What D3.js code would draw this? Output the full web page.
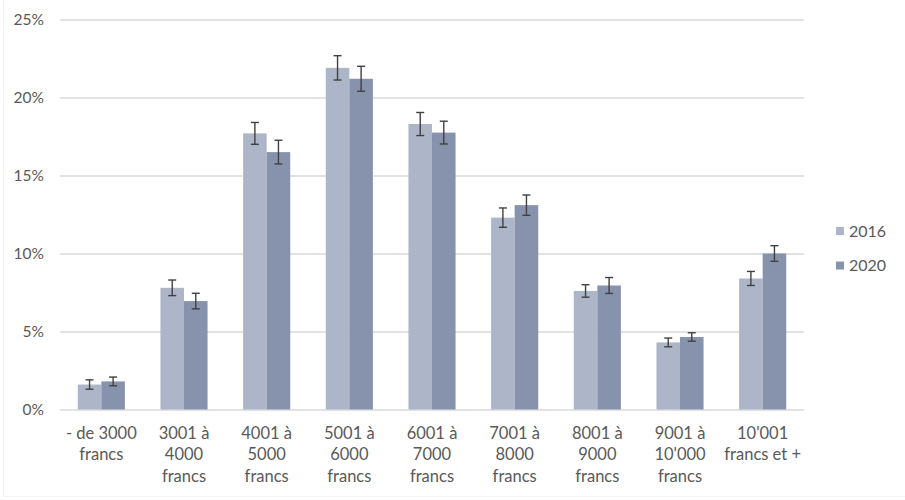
<!DOCTYPE html>
<html>
<head>
<meta charset="utf-8">
<script src="https://cdn.jsdelivr.net/npm/d3@7"></script>
<style>
  html, body { margin: 0; padding: 0; background: #fff; }
  svg { display: block; }
</style>
</head>
<body>
<svg id="chart" width="905" height="500"></svg>
<script>
const categories = [
  ["- de 3000", "francs"],
  ["3001 à", "4000", "francs"],
  ["4001 à", "5000", "francs"],
  ["5001 à", "6000", "francs"],
  ["6001 à", "7000", "francs"],
  ["7001 à", "8000", "francs"],
  ["8001 à", "9000", "francs"],
  ["9001 à", "10'000", "francs"],
  ["10'001", "francs et +"]
];
const seriesNames = ["2016", "2020"];
const values2016 = [1.6, 7.8, 17.7, 21.9, 18.3, 12.3, 7.6, 4.3, 8.4];
const values2020 = [1.8, 6.95, 16.5, 21.2, 17.75, 13.1, 7.95, 4.65, 10.0];
const err2016 = [0.3, 0.5, 0.7, 0.78, 0.74, 0.62, 0.4, 0.28, 0.45];
const err2020 = [0.28, 0.5, 0.76, 0.8, 0.73, 0.65, 0.51, 0.27, 0.5];
const yTicks = [0, 5, 10, 15, 20, 25];
const colors = ["#adb6c9", "#8793ad"];

(function () {
const svg = d3.select("#chart");
const font = "Lato, 'Open Sans', sans-serif";
const textColor = "#595959";

// faint outer frame
svg.append("line").attr("x1", 3.5).attr("x2", 3.5).attr("y1", 0).attr("y2", 497)
  .attr("stroke", "#f4f4f4").attr("stroke-width", 1);
svg.append("line").attr("x1", 3).attr("x2", 905).attr("y1", 496.5).attr("y2", 496.5)
  .attr("stroke", "#f4f4f4").attr("stroke-width", 1);

const pLeft = 60, pRight = 804, pTop = 19.5, pBottom = 409.5;
const x = d3.scaleBand().domain(d3.range(categories.length)).range([pLeft, pRight]).paddingInner(0.43).paddingOuter(0.215);
const xs = d3.scaleBand().domain(seriesNames).range([0, x.bandwidth()]);
const y = d3.scaleLinear().domain([0, 25]).range([pBottom, pTop]);

// grid
const grid = svg.append("g").attr("transform", `translate(${pLeft},0)`)
  .call(d3.axisLeft(y).tickValues(yTicks).tickSize(-(pRight - pLeft)).tickFormat(""));
grid.select(".domain").remove();
grid.selectAll(".tick line").attr("stroke", "#d9d9d9").attr("stroke-width", 1.3);

// y labels
const yAxis = svg.append("g").attr("transform", `translate(44,0)`)
  .call(d3.axisLeft(y).tickValues(yTicks).tickSize(0).tickPadding(0).tickFormat(d => d + "%"));
yAxis.select(".domain").remove();
yAxis.selectAll("text").attr("font-family", font).attr("font-size", 15.5).attr("fill", textColor);

// bars
const data = categories.map((c, i) => ({
  i,
  vals: [
    { s: "2016", v: values2016[i], e: err2016[i], c: colors[0] },
    { s: "2020", v: values2020[i], e: err2020[i], c: colors[1] }
  ]
}));

const groups = svg.append("g").selectAll("g").data(data).join("g")
  .attr("transform", d => `translate(${x(d.i)},0)`);

groups.selectAll("rect").data(d => d.vals).join("rect")
  .attr("x", d => xs(d.s))
  .attr("width", xs.bandwidth())
  .attr("y", d => y(d.v))
  .attr("height", d => y(0) - y(d.v))
  .attr("fill", d => d.c);

// error bars
const eb = groups.selectAll("g.err").data(d => d.vals).join("g").attr("class", "err");
const cap = 4;
const cx = d => xs(d.s) + xs.bandwidth() / 2;
eb.append("line")
  .attr("x1", cx).attr("x2", cx)
  .attr("y1", d => y(d.v + d.e)).attr("y2", d => y(d.v - d.e));
eb.append("line")
  .attr("x1", d => cx(d) - cap).attr("x2", d => cx(d) + cap)
  .attr("y1", d => y(d.v + d.e)).attr("y2", d => y(d.v + d.e));
eb.append("line")
  .attr("x1", d => cx(d) - cap).attr("x2", d => cx(d) + cap)
  .attr("y1", d => y(d.v - d.e)).attr("y2", d => y(d.v - d.e));
eb.selectAll("line").attr("stroke", "#404040").attr("stroke-width", 1.4);

// x labels
const xl = svg.append("g").selectAll("text").data(categories).join("text")
  .attr("x", (d, i) => x(i) + x.bandwidth() / 2)
  .attr("y", 438.5)
  .attr("text-anchor", "middle")
  .attr("font-family", font).attr("font-size", 16.5).attr("fill", textColor);
xl.each(function (d, i) {
  const t = d3.select(this);
  const xx = x(i) + x.bandwidth() / 2;
  d.forEach((line, j) => {
    t.append("tspan").attr("x", xx).attr("dy", j === 0 ? 0 : 21.5).text(line);
  });
});

// legend
const lg = svg.append("g").selectAll("g").data(seriesNames).join("g")
  .attr("transform", (d, i) => `translate(836,${231 + i * 34.5})`);
lg.append("rect").attr("x", 0).attr("y", -4).attr("width", 8).attr("height", 8)
  .attr("fill", (d, i) => colors[i]);
lg.append("text").attr("x", 13).attr("y", 0).attr("dy", "0.35em")
  .attr("font-family", font).attr("font-size", 16).attr("fill", textColor)
  .text(d => d);
})();
</script>
</body>
</html>
